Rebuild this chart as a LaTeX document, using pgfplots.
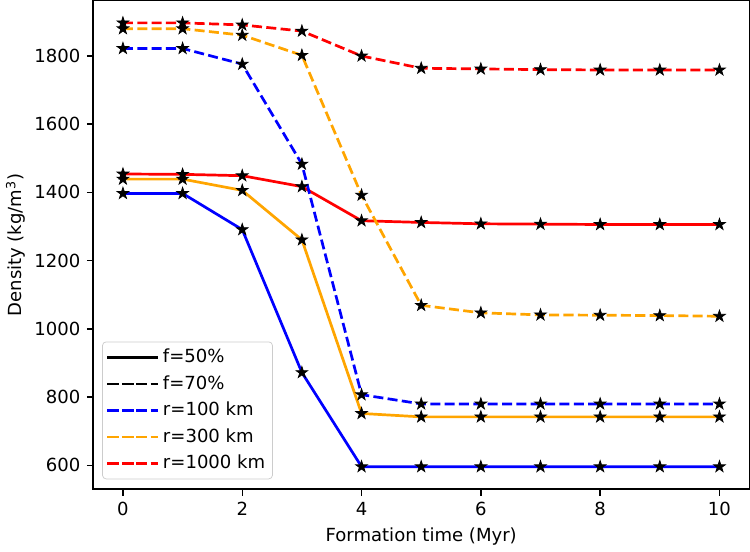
\documentclass[border=0pt]{standalone}
\usepackage{fontspec}
\setmainfont{DejaVu Sans}
\usepackage{pgfplots}
\pgfplotsset{compat=1.18}

\pgfdeclareplotmark{fstar}{%
  \pgfpathmoveto{\pgfpointpolar{90}{\pgfplotmarksize}}%
  \pgfpathlineto{\pgfpointpolar{126}{0.382*\pgfplotmarksize}}%
  \pgfpathlineto{\pgfpointpolar{162}{\pgfplotmarksize}}%
  \pgfpathlineto{\pgfpointpolar{198}{0.382*\pgfplotmarksize}}%
  \pgfpathlineto{\pgfpointpolar{234}{\pgfplotmarksize}}%
  \pgfpathlineto{\pgfpointpolar{270}{0.382*\pgfplotmarksize}}%
  \pgfpathlineto{\pgfpointpolar{306}{\pgfplotmarksize}}%
  \pgfpathlineto{\pgfpointpolar{342}{0.382*\pgfplotmarksize}}%
  \pgfpathlineto{\pgfpointpolar{18}{\pgfplotmarksize}}%
  \pgfpathlineto{\pgfpointpolar{54}{0.382*\pgfplotmarksize}}%
  \pgfpathclose
  \pgfusepathqfillstroke}

\definecolor{mblue}{RGB}{0,0,255}
\definecolor{morange}{RGB}{255,165,0}
\definecolor{mred}{RGB}{255,0,0}

\pgfplotstableread{
x  b50  o50  r50  b70  o70  r70
0  1397 1439 1454 1822 1880 1897
1  1397 1439 1453 1822 1880 1897
2  1291 1406 1449 1776 1861 1891
3  872  1261 1417 1483 1802 1873
4  596  752  1317 807  1392 1800
5  596  742  1312 780  1069 1764
6  596  742  1308 780  1047 1762
7  596  742  1307 780  1041 1760
8  596  742  1306 780  1040 1759
9  596  742  1306 780  1039 1759
10 596  742  1306 780  1037 1759
}\data

\tikzset{mdash/.style={dash pattern=on 5.55pt off 2.4pt}}

\begin{document}
\begin{tikzpicture}
\begin{axis}[
  scale only axis,
  width=363.5pt, height=270.6pt,
  xmin=-0.5, xmax=10.5, ymin=530, ymax=1962,
  xtick={0,2,4,6,8,10},
  ytick={600,800,1000,1200,1400,1600,1800},
  axis line style={line width=0.8pt, black},
  tick style={line width=0.8pt, black},
  tick align=outside,
  tick pos=left,
  major tick length=3.5pt,
  /pgf/number format/assume math mode=true,
  /pgf/number format/1000 sep={},
  ticklabel style={font=\fontsize{10}{12}\selectfont},
  label style={font=\fontsize{10}{12}\selectfont},
  xlabel={Formation time (Myr)},
  ylabel={Density (kg/m\textsuperscript{3})},
  ylabel style={yshift=-2pt},
  every axis plot/.append style={line width=1.5pt, mark=fstar, mark size=3.4pt,
     mark options={solid, fill=black, draw=black, line width=0.4pt}},
  legend style={at={(0,0)}, anchor=south west, xshift=5pt, yshift=5.5pt,
     draw=black!20, rounded corners=2pt, fill=white,
     font=\fontsize{10}{12}\selectfont, row sep=1.6pt,
     inner xsep=2pt, inner ysep=2pt},
  legend cell align=left,
  legend image post style={mark=none},
  legend image code/.code={\path (-1pt,0pt) -- (27pt,0pt); \draw[#1] (0pt,0pt) -- (21pt,0pt);},
]
\addplot[mblue, forget plot] table[x=x, y=b50] {\data};
\addplot[morange, forget plot] table[x=x, y=o50] {\data};
\addplot[mred, forget plot] table[x=x, y=r50] {\data};
\addplot[mblue, mdash, forget plot] table[x=x, y=b70] {\data};
\addplot[morange, mdash, forget plot] table[x=x, y=o70] {\data};
\addplot[mred, mdash, forget plot] table[x=x, y=r70] {\data};

\addlegendimage{black, line width=1.5pt, mark=none}
\addlegendentry{f=50\%}
\addlegendimage{black, mdash, line width=1.5pt, mark=none}
\addlegendentry{f=70\%}
\addlegendimage{mblue, mdash, line width=1.5pt, mark=none}
\addlegendentry{r=100 km}
\addlegendimage{morange, mdash, line width=1.5pt, mark=none}
\addlegendentry{r=300 km}
\addlegendimage{mred, mdash, line width=1.5pt, mark=none}
\addlegendentry{r=1000 km}
\end{axis}
\end{tikzpicture}
\end{document}
